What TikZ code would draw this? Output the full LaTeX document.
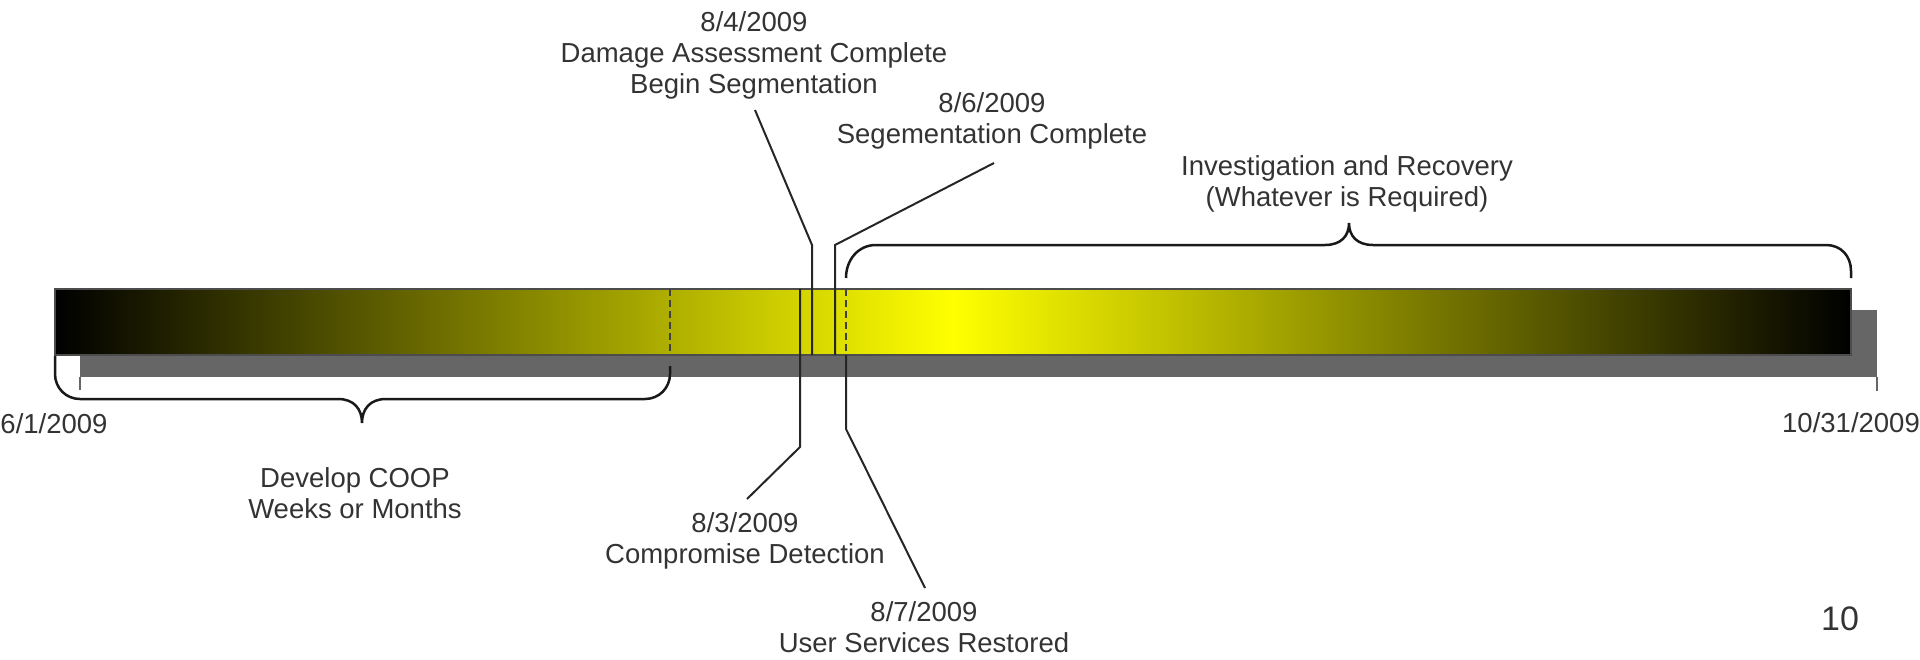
\documentclass[tikz,border=0pt]{standalone}
\usepackage{fontspec}
\setmainfont{Liberation Sans}
\definecolor{txt}{HTML}{333333}
\definecolor{shadowgray}{HTML}{666666}
\tikzset{
  lbl/.style={text=txt, font=\fontsize{27.5}{31}\selectfont, align=center, inner sep=0pt},
  leader/.style={draw=black!85, line width=2pt},
  bracepath/.style={draw=black!90, line width=2.5pt},
  dashmark/.style={draw=black!75, line width=2pt, dash pattern=on 7pt off 4pt},
  tickmark/.style={draw=shadowgray, line width=2pt},
}
\begin{document}
\begin{tikzpicture}[x=1pt,y=-1pt]
\useasboundingbox (0,0) rectangle (1920,659);
% shadow and bar
\fill[shadowgray] (80,310) rectangle (1877,377);
\shade[left color=black, right color=black, middle color=yellow, draw=black!70, line width=1.5pt] (55,289) rectangle (1851,355);
% date ticks under shadow
\coordinate (ts1) at (80,377);  \coordinate (te1) at (80,390);
\coordinate (ts2) at (1877,377); \coordinate (te2) at (1877,391);
\draw[tickmark] (ts1) -- (te1);
\draw[tickmark] (ts2) -- (te2);

% labels
\node[lbl] (d84) at (754,55.8) {8/4/2009\\Damage Assessment Complete\\Begin Segmentation};
\node[lbl] (d86) at (992,121.3) {8/6/2009\\Segementation Complete};
\node[lbl] (inv) at (1347,183.4) {Investigation and Recovery\\(Whatever is Required)};
\node[lbl] (coop) at (355,493.5) {Develop COOP\\Weeks or Months};
\node[lbl] (d83) at (745,541.3) {8/3/2009\\Compromise Detection};
\node[lbl] (d87) at (924,627.4) {8/7/2009\\User Services Restored};
\node[lbl] (start) at (54,424) {6/1/2009};
\node[lbl] (finish) at (1851,423) {10/31/2009};
\node[lbl, font=\fontsize{34}{40}\selectfont] (page) at (1840,619) {10};

% marker lines in bar
\coordinate (m1t) at (670,289); \coordinate (m1b) at (670,355);
\draw[dashmark] (m1t) -- (m1b);
\coordinate (m2t) at (846,289); \coordinate (m2b) at (846,355);
\draw[dashmark] (m2t) -- (m2b);

% 8/4 leader
\coordinate (a84) at (755,110); \coordinate (b84) at (812,245); \coordinate (c84) at (812,355);
\draw[leader] (a84) -- (b84) -- (c84);
% 8/6 leader
\coordinate (a86) at (994,163); \coordinate (b86) at (835,245); \coordinate (c86) at (835,355);
\draw[leader] (a86) -- (b86) -- (c86);
% 8/3 leader
\coordinate (a83) at (800,289); \coordinate (b83) at (800,447); \coordinate (c83) at (747,499);
\draw[leader] (a83) -- (b83) -- (c83);
% 8/7 leader
\coordinate (b87) at (846,429); \coordinate (c87) at (925,588);
\draw[leader] (m2b) -- (b87) -- (c87);

% Develop COOP brace
\coordinate (cb1) at (55,356);
\coordinate (cb2) at (670,366);
\draw[bracepath] (cb1) -- (55,374) .. controls (55,388) and (66,399) .. (80,399)
  -- (338,399) .. controls (354,399) and (362,409) .. (362,423)
  .. controls (362,409) and (370,399) .. (386,399)
  -- (645,399) .. controls (659,399) and (670,388) .. (670,374) -- (cb2);

% Investigation brace
\coordinate (ib1) at (846,278);
\coordinate (ib2) at (1851,278);
\draw[bracepath] (ib1) .. controls (846,260) and (858,245) .. (876,245)
  -- (1325,245) .. controls (1341,245) and (1349,236) .. (1349,223)
  .. controls (1349,236) and (1357,245) .. (1373,245)
  -- (1826,245) .. controls (1841,245) and (1851,256) .. (1851,271) -- (ib2);
\end{tikzpicture}
\end{document}
